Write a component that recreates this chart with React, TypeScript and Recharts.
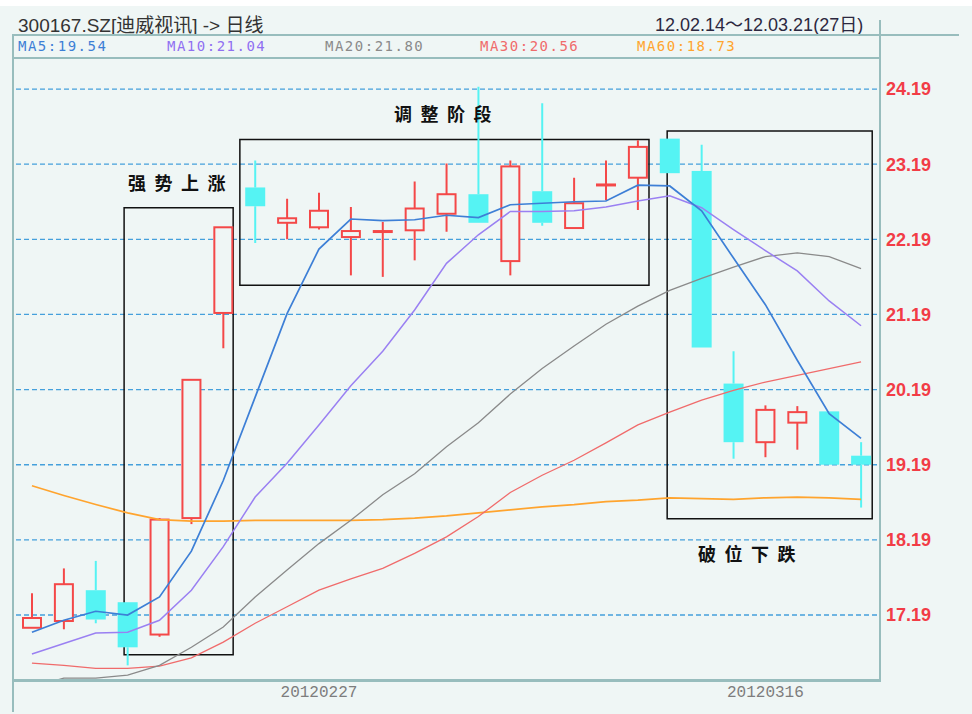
import React from 'react';
import { ComposedChart, Bar, Line, XAxis, YAxis, CartesianGrid, ReferenceArea } from 'recharts';

const dates = ['20120214', '20120215', '20120216', '20120217', '20120220', '20120221', '20120222', '20120223', '20120224', '20120227', '20120228', '20120229', '20120301', '20120302', '20120305', '20120306', '20120307', '20120308', '20120309', '20120312', '20120313', '20120314', '20120315', '20120316', '20120319', '20120320', '20120321'];
const open = [17.02, 17.11, 17.52, 17.36, 16.93, 18.48, 21.21, 22.88, 22.41, 22.35, 22.22, 22.29, 22.31, 22.53, 22.79, 21.9, 22.83, 22.34, 22.91, 23.01, 23.53, 23.1, 20.27, 19.49, 19.75, 19.9, 19.31];
const high = [17.48, 17.81, 17.91, 17.36, 18.48, 20.32, 22.35, 23.24, 22.73, 22.81, 22.62, 22.42, 22.96, 23.2, 24.22, 23.24, 24.0, 23.01, 23.24, 23.51, 23.53, 23.45, 20.7, 19.98, 19.97, 19.9, 19.49];
const low = [17.02, 17.0, 17.08, 16.52, 16.9, 18.4, 20.74, 22.14, 22.19, 22.32, 21.71, 21.69, 21.91, 22.29, 22.41, 21.71, 22.37, 22.34, 22.71, 22.58, 23.07, 20.75, 19.27, 19.29, 19.39, 19.19, 18.62];
const close = [17.15, 17.6, 17.13, 16.76, 18.46, 20.32, 22.35, 22.63, 22.47, 22.57, 22.3, 22.3, 22.6, 22.79, 22.41, 23.16, 22.41, 22.67, 22.92, 23.42, 23.07, 20.75, 19.49, 19.92, 19.89, 19.19, 19.19];

const ma5 = [16.96, 17.12, 17.24, 17.19, 17.43, 18.04, 18.98, 20.09, 21.2, 22.06, 22.46, 22.44, 22.45, 22.51, 22.48, 22.65, 22.67, 22.69, 22.7, 22.91, 22.9, 22.57, 21.94, 21.32, 20.58, 19.87, 19.54];
const ma10 = [16.67, 16.81, 16.95, 16.96, 17.12, 17.52, 18.1, 18.76, 19.21, 19.72, 20.24, 20.7, 21.25, 21.87, 22.25, 22.56, 22.56, 22.57, 22.62, 22.7, 22.77, 22.61, 22.32, 22.04, 21.77, 21.37, 21.04];
const ma20 = [16.23, 16.35, 16.35, 16.39, 16.52, 16.76, 17.03, 17.43, 17.79, 18.14, 18.45, 18.79, 19.07, 19.43, 19.75, 20.13, 20.47, 20.77, 21.06, 21.3, 21.51, 21.67, 21.82, 21.96, 22.01, 21.96, 21.8];
const ma30 = [16.55, 16.52, 16.48, 16.48, 16.51, 16.62, 16.83, 17.08, 17.3, 17.52, 17.67, 17.81, 18.01, 18.23, 18.5, 18.82, 19.05, 19.25, 19.48, 19.72, 19.89, 20.05, 20.18, 20.29, 20.38, 20.47, 20.56];
const ma60 = [18.91, 18.78, 18.66, 18.55, 18.46, 18.44, 18.44, 18.45, 18.45, 18.45, 18.45, 18.46, 18.48, 18.51, 18.55, 18.59, 18.63, 18.66, 18.7, 18.72, 18.75, 18.74, 18.73, 18.75, 18.76, 18.75, 18.73];

const priceTicks = [17.19, 18.19, 19.19, 20.19, 21.19, 22.19, 23.19, 24.19];
const dateLabels = ['20120227', '20120316'];

const maLegend = [
  { name: 'MA5', value: '19.54', color: '#3d7fd6', left: 18 },
  { name: 'MA10', value: '21.04', color: '#9070f2', left: 167 },
  { name: 'MA20', value: '21.80', color: '#8a8a8a', left: 325 },
  { name: 'MA30', value: '20.56', color: '#f06b6b', left: 480 },
  { name: 'MA60', value: '18.73', color: '#ffa42e', left: 637 },
];

const data = dates.map((date, i) => ({
  date,
  idx: i + 1,
  open: open[i],
  high: high[i],
  low: low[i],
  close: close[i],
  ma5: ma5[i],
  ma10: ma10[i],
  ma20: ma20[i],
  ma30: ma30[i],
  ma60: ma60[i],
}));

const BG = '#eff6f5';
const UP = '#f44848';
const DOWN = '#55f3f3';
const FRAME = '#98bdbd';

const Candle = (props: any) => {
  const { x, y, width, height, payload } = props;
  if (!payload) return null;
  const top = Math.min(y, y + height);
  const h = Math.abs(height);
  const k = h / (payload.high - payload.low || 1);
  const yOf = (v: number) => top + (payload.high - v) * k;
  const up = payload.close >= payload.open;
  const color = up ? UP : DOWN;
  const bt = yOf(Math.max(payload.open, payload.close));
  const bb = yOf(Math.min(payload.open, payload.close));
  const cx = x + width / 2;
  return (
    <g>
      <line x1={cx} x2={cx} y1={top} y2={bt} stroke={color} strokeWidth={2} />
      <line x1={cx} x2={cx} y1={bb} y2={top + h} stroke={color} strokeWidth={2} />
      {up ? (
        <rect x={x + 1} y={bt} width={width - 2} height={Math.max(bb - bt, 1)} fill={BG} stroke={UP} strokeWidth={2} />
      ) : (
        <rect x={x} y={bt} width={width} height={Math.max(bb - bt, 2)} fill={DOWN} />
      )}
    </g>
  );
};

const DateTick = (props: any) => {
  const { x, y, payload } = props;
  if (!dateLabels.includes(payload.value)) return <g />;
  return (
    <text x={x} y={y} dy={13} textAnchor="middle" fill="#7d7d7d" fontSize={16} fontFamily="Liberation Mono, DejaVu Sans Mono, monospace">
      {payload.value}
    </text>
  );
};

const noteStyle: React.CSSProperties = {
  position: 'absolute',
  fontFamily: '"Noto Sans CJK SC", sans-serif',
  fontWeight: 700,
  fontSize: 18,
  letterSpacing: 8.5,
  color: '#111',
  lineHeight: '20px',
};

export default function App() {
  return (
    <div style={{ position: 'absolute', left: 0, top: 0, width: 972, height: 714, background: BG, overflow: 'hidden' }}>
      <div style={{ position: 'absolute', left: 0, top: 0, width: 972, height: 6, background: '#fff' }} />
      <div style={{ position: 'absolute', left: 18, top: 10, fontSize: 19, color: '#333', fontFamily: '"Liberation Sans", "Noto Sans CJK SC", sans-serif', whiteSpace: 'nowrap' }}>
        300167.SZ[迪威视讯] -&gt; 日线
      </div>
      <div style={{ position: 'absolute', left: 655, top: 10, fontSize: 18, color: '#2c2840', fontFamily: '"Liberation Sans", "Noto Sans CJK SC", sans-serif', whiteSpace: 'nowrap' }}>
        12.02.14～12.03.21(27日)
      </div>
      {maLegend.map((m) => (
        <div key={m.name} style={{ position: 'absolute', left: m.left, top: 38, fontSize: 14, letterSpacing: 1.5, color: m.color, fontFamily: '"DejaVu Sans Mono", monospace', whiteSpace: 'nowrap' }}>
          {m.name}:{m.value}
        </div>
      ))}

      <div style={{ position: 'absolute', left: 0, top: 0 }}>
        <ComposedChart width={972} height={714} data={data} margin={{ top: 58, right: 0, bottom: 0, left: 16 }}>
          <CartesianGrid horizontal vertical={false} stroke="#45a0dc" strokeDasharray="5 3" strokeWidth={1.3} />
          <XAxis dataKey="date" height={34} interval={0} tick={<DateTick />} tickSize={0} tickMargin={4} axisLine={false} tickLine={false} />
          <XAxis xAxisId="n" dataKey="idx" type="number" domain={[0.5, 27.5]} hide allowDataOverflow />
          <YAxis
            orientation="right"
            width={95}
            domain={[16.325, 24.603]}
            allowDataOverflow
            ticks={priceTicks}
            tickFormatter={(v) => Number(v).toFixed(2)}
            tick={{ fill: '#f23c46', fontSize: 18, fontWeight: 700, fontFamily: 'Liberation Sans, Arial, sans-serif' }}
            tickSize={0}
            tickMargin={9}
            axisLine={false}
            tickLine={false}
          />
          <Bar dataKey={(d: any) => [d.low, d.high]} barSize={20} shape={<Candle />} isAnimationActive={false} />
          <Line type="linear" dataKey="ma60" stroke="#ffa42e" strokeWidth={1.7} dot={false} isAnimationActive={false} />
          <Line type="linear" dataKey="ma30" stroke="#f06b6b" strokeWidth={1.3} dot={false} isAnimationActive={false} />
          <Line type="linear" dataKey="ma20" stroke="#8a8a8a" strokeWidth={1.3} dot={false} isAnimationActive={false} />
          <Line type="linear" dataKey="ma10" stroke="#9a80f2" strokeWidth={1.5} dot={false} isAnimationActive={false} />
          <Line type="linear" dataKey="ma5" stroke="#3d7fd6" strokeWidth={1.7} dot={false} isAnimationActive={false} />
          <ReferenceArea xAxisId="n" x1={3.89} x2={7.31} y1={16.66} y2={22.61} fill="none" stroke="#111" strokeWidth={1.5} fillOpacity={0} />
          <ReferenceArea xAxisId="n" x1={7.52} x2={20.35} y1={21.58} y2={23.52} fill="none" stroke="#111" strokeWidth={1.5} fillOpacity={0} />
          <ReferenceArea xAxisId="n" x1={20.92} x2={27.35} y1={18.47} y2={23.63} fill="none" stroke="#111" strokeWidth={1.5} fillOpacity={0} />
        </ComposedChart>
      </div>

      <div style={{ position: 'absolute', left: 13, top: 34, width: 946, height: 2, background: FRAME }} />
      <div style={{ position: 'absolute', left: 13, top: 57, width: 867, height: 2, background: FRAME }} />
      <div style={{ position: 'absolute', left: 12, top: 34, width: 2, height: 678, background: FRAME }} />
      <div style={{ position: 'absolute', left: 879, top: 20, width: 2, height: 662, background: FRAME }} />
      <div style={{ position: 'absolute', left: 13, top: 679, width: 868, height: 3, background: FRAME }} />

      <div style={{ ...noteStyle, left: 128, top: 172 }}>强势上涨</div>
      <div style={{ ...noteStyle, left: 394, top: 103 }}>调整阶段</div>
      <div style={{ ...noteStyle, left: 698, top: 543 }}>破位下跌</div>
    </div>
  );
}
